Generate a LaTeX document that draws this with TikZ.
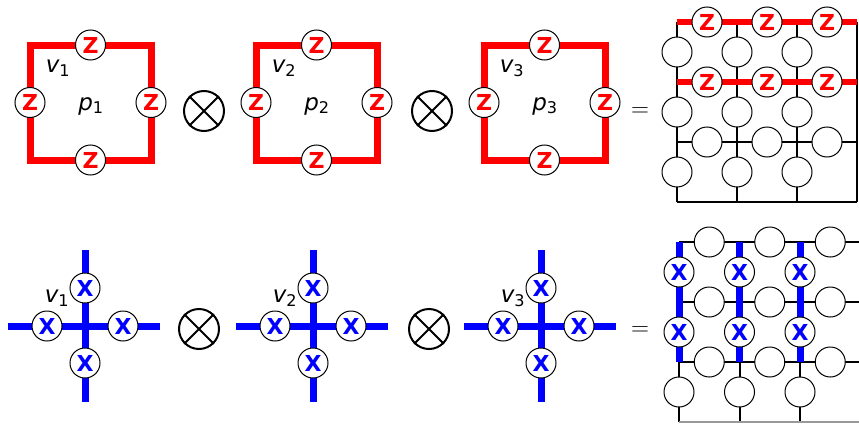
\documentclass[tikz,border=0pt]{standalone}
\usepackage{fontspec}
\setmainfont{DejaVu Sans}
\usetikzlibrary{positioning, calc}

\tikzset{
  qubit/.style={circle, draw, fill=white, minimum size=30pt, inner sep=0pt, line width=1pt},
  zop/.style={qubit, text=red, font=\bfseries\fontsize{22}{22}\selectfont},
  xop/.style={qubit, text=blue, font=\bfseries\fontsize{22}{22}\selectfont},
  redbond/.style={red, line width=7pt},
  bluebond/.style={blue, line width=7pt},
  bond/.style={black, line width=2pt},
  lbl/.style={font=\fontsize{23}{23}\selectfont},
  otimes/.style={circle, draw, line width=2pt, minimum size=40pt, inner sep=0pt},
}

\begin{document}
\begin{tikzpicture}[x=1pt, y=-1pt]
\useasboundingbox (0,0) rectangle (859,423);

% plaquettes
\foreach \k/\x in {1/30, 2/256, 3/484} {
  \coordinate (a\k) at (\x,45);
  \coordinate (b\k) at (\x+121,45);
  \coordinate (c\k) at (\x+121,160);
  \coordinate (d\k) at (\x,160);
  \draw[redbond] (a\k) -- (b\k) -- (c\k) -- (d\k) -- cycle;
  \node[zop] (zt\k) at ($(a\k)!0.5!(b\k)$) {Z};
  \node[zop] (zr\k) at ($(b\k)!0.5!(c\k)$) {Z};
  \node[zop] (zb\k) at ($(c\k)!0.5!(d\k)$) {Z};
  \node[zop] (zl\k) at ($(d\k)!0.5!(a\k)$) {Z};
  \node[lbl] (v\k) at (\x+28,68) {\itshape v\textsubscript{\upshape\k}};
  \node[lbl] (p\k) at (\x+61,106) {\itshape p\textsubscript{\upshape\k}};
}

% stars
\foreach \k/\x in {1/85, 2/313, 3/541} {
  \coordinate (s\k) at (\x,326);
  \coordinate (sw\k) at (\x-77,326);
  \coordinate (se\k) at (\x+75,326);
  \coordinate (sn\k) at (\x,250);
  \coordinate (ss\k) at (\x,402);
  \draw[bluebond] (sw\k) -- (se\k);
  \draw[bluebond] (sn\k) -- (ss\k);
  \node[xop] (xn\k) at (\x,288) {X};
  \node[xop] (xw\k) at (\x-38,326) {X};
  \node[xop] (xe\k) at (\x+38,326) {X};
  \node[xop] (xs\k) at (\x,363) {X};
  \node[lbl] (w\k) at (\x-28,298) {\itshape v\textsubscript{\upshape\k}};
}

% tensor products and equals
\foreach \k/\x/\y in {1/204/111, 2/432/111, 3/199/329, 4/429/329} {
  \node[otimes] (t\k) at (\x,\y) {};
  \draw[line width=2pt] (t\k.north west) -- (t\k.south east);
  \draw[line width=2pt] (t\k.north east) -- (t\k.south west);
}
\node (eq1) at (640,112) {\fontsize{31}{31}\selectfont$=$};
\node (eq2) at (640,331) {\fontsize{31}{31}\selectfont$=$};

% top lattice
\foreach \i in {0,...,3}
  \foreach \j in {0,...,3}
    \coordinate (g-\i-\j) at (677+60*\i,22+60*\j);
\foreach \i in {0,...,3}
  \draw[bond] (g-\i-0) -- (g-\i-3);
\draw[bond] (g-0-2) -- (g-3-2);
\draw[bond] (g-0-3) -- (g-3-3);
\draw[redbond, line width=6pt] (g-0-0) -- (g-3-0);
\draw[redbond, line width=6pt] (g-0-1) -- (g-3-1);
\foreach \i in {0,1,2} {
  \node[zop] (gh-\i-0) at ($(g-\i-0)!0.5!(g-\the\numexpr\i+1\relax-0)$) {Z};
  \node[zop] (gh-\i-1) at ($(g-\i-1)!0.5!(g-\the\numexpr\i+1\relax-1)$) {Z};
  \node[qubit] (gh-\i-2) at ($(g-\i-2)!0.5!(g-\the\numexpr\i+1\relax-2)$) {};
  \foreach \j in {0,1,2}
    \node[qubit] (gv-\i-\j) at ($(g-\i-\j)!0.5!(g-\i-\the\numexpr\j+1\relax)$) {};
}

% bottom lattice
\foreach \i in {0,...,3}
  \foreach \j in {0,...,3}
    \coordinate (h-\i-\j) at (679+60.5*\i,242+60*\j);
\foreach \i in {0,1,2}
  \draw[bond] (h-\i-0) -- (h-\i-3);
\foreach \j in {0,1,2}
  \draw[bond] (h-0-\j) -- (h-3-\j);
\draw[black!40, line width=2pt] (h-0-3) -- (h-3-3);
\foreach \i in {0,1,2}
  \draw[bluebond] (h-\i-0) -- (h-\i-2);
\foreach \i in {0,1,2} {
  \foreach \j in {0,1,2}
    \node[qubit] (hh-\i-\j) at ($(h-\i-\j)!0.5!(h-\the\numexpr\i+1\relax-\j)$) {};
  \node[xop] (hv-\i-0) at ($(h-\i-0)!0.5!(h-\i-1)$) {X};
  \node[xop] (hv-\i-1) at ($(h-\i-1)!0.5!(h-\i-2)$) {X};
  \node[qubit] (hv-\i-2) at ($(h-\i-2)!0.5!(h-\i-3)$) {};
}
\end{tikzpicture}
\end{document}
